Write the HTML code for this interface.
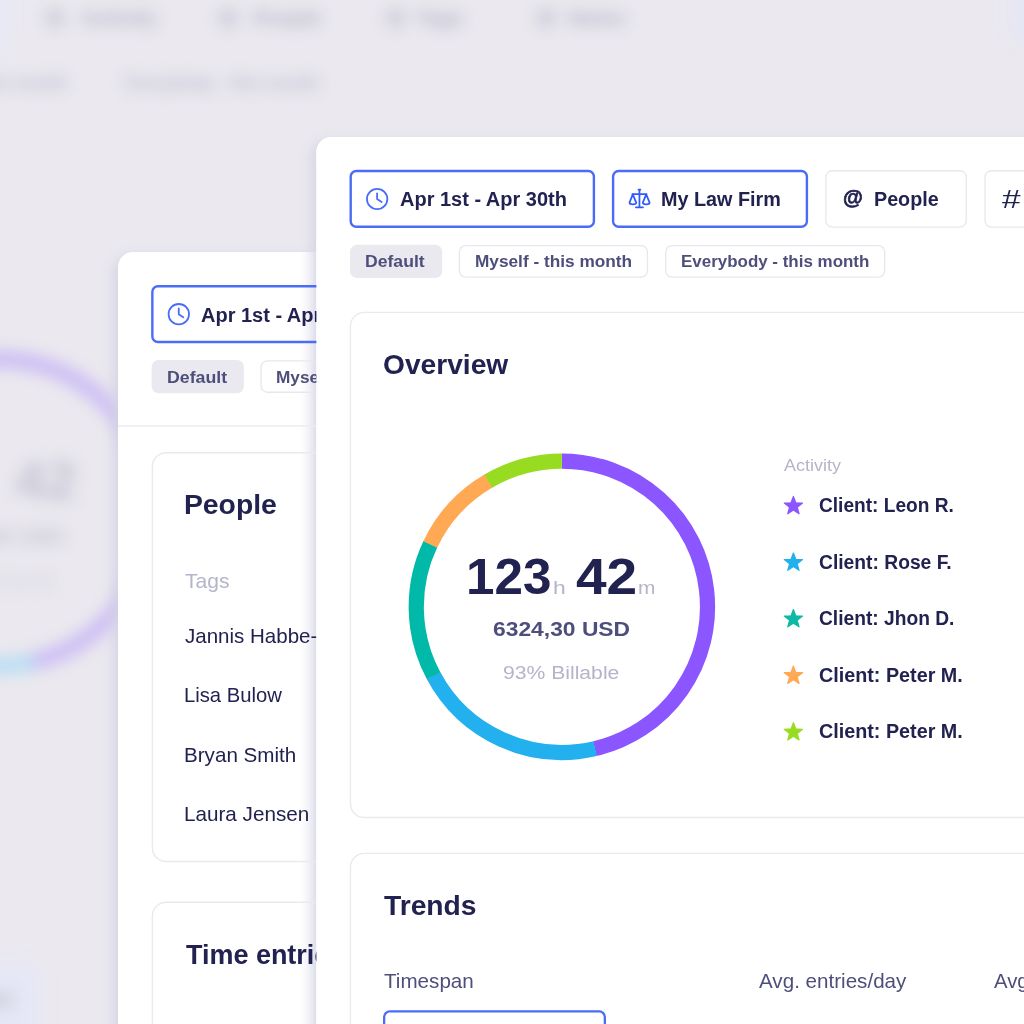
<!DOCTYPE html>
<html lang="en">
<head>
<meta charset="utf-8">
<title>Time tracking reports</title>
<style>
html,body{margin:0;padding:0;background:#ebe9ef;}
body{width:1024px;height:1024px;overflow:hidden;font-family:"Liberation Sans",sans-serif;}
.stage{position:relative;width:1024px;height:1024px;overflow:hidden;background:#ebe9ef;}
.t{position:absolute;white-space:nowrap;line-height:1;transform-origin:0 0;}
.abs{position:absolute;}
.panel{position:absolute;background:#fff;border-radius:15px;}
.blur{position:absolute;left:0;top:0;width:1024px;height:1024px;filter:blur(8px);}
svg{position:absolute;left:0;top:0;overflow:visible;}
</style>
</head>
<body>
<div class="stage">

<!-- blurred background layer -->
<div class="blur">
  <div class="abs" style="left:-30px;top:-20px;width:43px;height:67px;border-radius:8px;background:#e7e8f5;"></div>
  <div class="abs" style="left:1010px;top:-20px;width:60px;height:62px;border-radius:8px;background:#e5e6f5;"></div>
  <div class="abs" style="left:-30px;top:964px;width:70px;height:90px;border-radius:8px;background:#e6e7f6;"></div>
  <div class="abs" style="left:-20px;top:992px;width:34px;height:16px;border-radius:6px;background:#d2d2e0;"></div>
  <svg width="1024" height="1024" viewBox="0 0 1024 1024">
    <g fill="none" stroke-width="16">
      <circle cx="-1.8" cy="512.4" r="153.5" stroke="#c9baf5"/>
      <path d="M32.7 662.0A153.5 153.5 0 0 1 -89.8 638.1" stroke="#b5def4"/>
    </g>
    <g fill="none" stroke="#b4b4c8" stroke-width="4">
      <circle cx="55" cy="18" r="7"/><circle cx="228" cy="18" r="7"/><circle cx="396" cy="18" r="7"/><circle cx="546" cy="18" r="7"/>
    </g>
  </svg>
  <span class="t" style="left:81px;top:7px;font-size:21px;font-weight:700;color:#adadc4;">Activity</span>
  <span class="t" style="left:253px;top:7px;font-size:21px;font-weight:700;color:#adadc4;">People</span>
  <span class="t" style="left:416px;top:7px;font-size:21px;font-weight:700;color:#adadc4;">Tags</span>
  <span class="t" style="left:568px;top:7px;font-size:21px;font-weight:700;color:#adadc4;">Notes</span>
  <span class="t" style="left:-92px;top:75px;font-size:17.5px;font-weight:700;color:#b6b6cb;">Myself - this month</span>
  <span class="t" style="left:125px;top:75px;font-size:17.5px;font-weight:700;color:#b6b6cb;">Everybody - this month</span>
  <span class="t" style="left:-105px;top:453px;font-size:54px;font-weight:700;color:#c2c2d2;">123</span>
  <span class="t" style="left:14px;top:453px;font-size:54px;font-weight:700;color:#c2c2d2;transform:scaleX(1.06)">42</span>
  <span class="t" style="left:-68px;top:526px;font-size:22px;font-weight:700;color:#c0c0d0;">6324,30 USD</span>
  <span class="t" style="left:-54px;top:571px;font-size:20px;font-weight:400;color:#d2d2de;">93% Billable</span>

</div>

<!-- middle panel -->
<div class="panel" style="left:118px;top:252px;width:760px;height:800px;box-shadow:-4px 4px 14px rgb(211,211,228);"></div>
<!-- front panel shadow (sits under the middle panel content) -->
<div class="panel" style="left:316px;top:137px;width:760px;height:940px;transform:translateX(0.4px);box-shadow:-4px 4px 14px rgb(211,211,228);"></div>
<div class="abs" style="left:118px;top:252px;width:199px;height:780px;overflow:hidden;">
<div class="abs" style="left:-118px;top:-252px;width:1024px;height:1024px;">

  <svg width="1024" height="1024" viewBox="0 0 1024 1024">
<rect x="152.40" y="452.70" width="846.90" height="408.80" rx="13.80" fill="none" stroke="#e9e9f0" stroke-width="1.4"/>
<rect x="152.40" y="902.30" width="846.90" height="397.00" rx="13.80" fill="none" stroke="#e9e9f0" stroke-width="1.4"/>
<rect x="152.35" y="286.20" width="243.20" height="55.80" rx="5.60" fill="none" stroke="#4a6cf7" stroke-width="2.4"/>
<rect x="151.65" y="360.00" width="92.20" height="33.30" rx="7.00" fill="#e9e9ef" />
<rect x="261.05" y="360.85" width="188.05" height="31.40" rx="6.35" fill="none" stroke="#e7e7ef" stroke-width="1.3"/>
<rect x="118" y="425.2" width="700" height="1.4" fill="#ebebf1"/>
    <g fill="none" stroke="#4a6cf7" stroke-width="1.8" stroke-linecap="round" stroke-linejoin="round">
      <circle cx="178.8" cy="314.2" r="10.2"/>
      <path d="M178.75 308.5V314.3L183.25 317.25"/>
    </g>
  </svg>
<span class="t" style="left:201.39px;top:304.62px;font-size:20.3px;font-weight:700;color:#222251;transform:scaleX(0.9851);">Apr 1st - Apr 30th</span>
<span class="t" style="left:166.89px;top:369.04px;font-size:17.2px;font-weight:700;color:#4e4e7c;transform:scaleX(1.0309);">Default</span>
<span class="t" style="left:276.32px;top:369.04px;font-size:17.2px;font-weight:700;color:#4e4e7c;transform:scaleX(1.0029);">Myself - this month</span>
<span class="t" style="left:183.53px;top:490.72px;font-size:27.5px;font-weight:700;color:#222251;transform:scaleX(1.0289);">People</span>
<span class="t" style="left:184.97px;top:571.32px;font-size:20.3px;font-weight:400;color:#b4b4ca;transform:scaleX(1.0399);">Tags</span>
<span class="t" style="left:184.98px;top:626.22px;font-size:20.3px;font-weight:400;color:#222251;transform:scaleX(1.0120);">Jannis Habbe-Smith</span>
<span class="t" style="left:183.72px;top:685.02px;font-size:20.3px;font-weight:400;color:#222251;transform:scaleX(0.9976);">Lisa Bulow</span>
<span class="t" style="left:183.69px;top:744.62px;font-size:20.3px;font-weight:400;color:#222251;transform:scaleX(1.0164);">Bryan Smith</span>
<span class="t" style="left:183.68px;top:804.42px;font-size:20.3px;font-weight:400;color:#222251;transform:scaleX(1.0192);">Laura Jensen</span>
<span class="t" style="left:185.70px;top:941.22px;font-size:27.5px;font-weight:700;color:#222251;transform:scaleX(0.9801);">Time entries</span>
</div>
</div>

<!-- front panel -->
<div class="panel" style="left:316px;top:137px;width:760px;height:940px;transform:translateX(0.4px);"></div>
<div class="abs" style="left:317px;top:137px;width:707px;height:887px;overflow:hidden;">
<div class="abs" style="left:-317px;top:-137px;width:1024px;height:1024px;">









  <svg width="1024" height="1024" viewBox="0 0 1024 1024">
<rect x="350.45" y="312.40" width="848.85" height="505.10" rx="13.80" fill="#fff" stroke="#e9e9f0" stroke-width="1.4"/>
<rect x="350.45" y="853.40" width="848.85" height="445.90" rx="13.80" fill="#fff" stroke="#e9e9f0" stroke-width="1.4"/>
<rect x="350.70" y="171.00" width="243.20" height="55.80" rx="5.60" fill="#fff" stroke="#4a6cf7" stroke-width="2.4"/>
<rect x="613.10" y="171.00" width="193.80" height="55.80" rx="5.60" fill="#fff" stroke="#4a6cf7" stroke-width="2.4"/>
<rect x="825.85" y="170.75" width="140.40" height="56.30" rx="6.35" fill="#fff" stroke="#e7e7ef" stroke-width="1.3"/>
<rect x="985.05" y="170.75" width="140.30" height="56.30" rx="6.35" fill="#fff" stroke="#e7e7ef" stroke-width="1.3"/>
<rect x="350.00" y="244.80" width="92.20" height="33.30" rx="7.00" fill="#e9e9ef" />
<rect x="459.40" y="245.65" width="188.05" height="31.40" rx="6.35" fill="#fff" stroke="#e7e7ef" stroke-width="1.3"/>
<rect x="665.65" y="245.65" width="219.00" height="31.40" rx="6.35" fill="#fff" stroke="#e7e7ef" stroke-width="1.3"/>
<rect x="384.15" y="1011.45" width="220.70" height="57.40" rx="5.65" fill="#fff" stroke="#4a6cf7" stroke-width="2.3"/>
    <g fill="none" stroke="#4a6cf7" stroke-width="1.8" stroke-linecap="round" stroke-linejoin="round">
      <circle cx="377.15" cy="199" r="10.2"/>
      <path d="M377.1 193.3V199.1L381.6 202.05"/>
    </g>
    <g fill="none" stroke="#2f5bfd" stroke-width="1.75" stroke-linecap="round" stroke-linejoin="round">
      <path d="M638.5 189.7H640.4M639.45 189.7V207.3M632.4 194.1H646.5M635.9 207.3H643"/>
      <path d="M632.8 194.4L629.5 202.6Q629.6 204.3 632.9 204.3Q636.2 204.3 636.3 202.8Z"/>
      <path d="M646.2 194.4L642.8 202.6Q642.9 204.3 646.2 204.3Q649.5 204.3 649.6 202.6Z"/>
    </g>
<path d="M561.90 461.15A145.65 145.65 0 0 1 594.76 748.69" stroke="#8b55ff" stroke-width="15.2" fill="none" />
<path d="M595.13 748.61A145.65 145.65 0 0 1 433.42 675.40" stroke="#22b0ee" stroke-width="15.2" fill="none" />
<path d="M433.60 675.74A145.65 145.65 0 0 1 430.44 544.10" stroke="#00b9a8" stroke-width="15.2" fill="none" />
<path d="M430.27 544.44A145.65 145.65 0 0 1 488.64 480.92" stroke="#ffa954" stroke-width="15.2" fill="none" />
<path d="M488.31 481.11A145.65 145.65 0 0 1 561.90 461.15" stroke="#98dc21" stroke-width="15.2" fill="none" />
<polygon points="793.40,496.40 795.77,502.74 802.53,503.03 797.23,507.25 799.04,513.77 793.40,510.03 787.76,513.77 789.57,507.25 784.27,503.03 791.03,502.74" fill="#8b55ff" stroke="#8b55ff" stroke-width="1.2" stroke-linejoin="round"/>
<polygon points="793.40,552.95 795.77,559.29 802.53,559.58 797.23,563.80 799.04,570.32 793.40,566.58 787.76,570.32 789.57,563.80 784.27,559.58 791.03,559.29" fill="#22b0ee" stroke="#22b0ee" stroke-width="1.2" stroke-linejoin="round"/>
<polygon points="793.40,609.50 795.77,615.84 802.53,616.13 797.23,620.35 799.04,626.87 793.40,623.13 787.76,626.87 789.57,620.35 784.27,616.13 791.03,615.84" fill="#0fb8a6" stroke="#0fb8a6" stroke-width="1.2" stroke-linejoin="round"/>
<polygon points="793.40,666.05 795.77,672.39 802.53,672.68 797.23,676.90 799.04,683.42 793.40,679.68 787.76,683.42 789.57,676.90 784.27,672.68 791.03,672.39" fill="#ffa954" stroke="#ffa954" stroke-width="1.2" stroke-linejoin="round"/>
<polygon points="793.40,722.60 795.77,728.94 802.53,729.23 797.23,733.45 799.04,739.97 793.40,736.23 787.76,739.97 789.57,733.45 784.27,729.23 791.03,728.94" fill="#98dc21" stroke="#98dc21" stroke-width="1.2" stroke-linejoin="round"/>
  </svg>
<span class="t" style="left:399.69px;top:189.07px;font-size:20.3px;font-weight:700;color:#222251;transform:scaleX(0.9851);">Apr 1st - Apr 30th</span>
<span class="t" style="left:661.36px;top:189.07px;font-size:20.3px;font-weight:700;color:#222251;transform:scaleX(0.9756);">My Law Firm</span>
<span class="t" style="left:842.65px;top:187.12px;font-size:20.3px;font-weight:700;color:#222251;transform:scaleX(1.0021);-webkit-text-stroke:0.7px #222251;">@</span>
<span class="t" style="left:874.27px;top:188.82px;font-size:20.3px;font-weight:700;color:#222251;transform:scaleX(0.9724);">People</span>
<span class="t" style="left:1001.70px;top:187.24px;font-size:25px;font-weight:400;color:#222251;transform:scaleX(1.3369);">#</span>
<span class="t" style="left:365.40px;top:253.44px;font-size:17.2px;font-weight:700;color:#4e4e7c;transform:scaleX(1.0239);">Default</span>
<span class="t" style="left:474.92px;top:253.44px;font-size:17.2px;font-weight:700;color:#4e4e7c;transform:scaleX(1.0029);">Myself - this month</span>
<span class="t" style="left:680.84px;top:253.44px;font-size:17.2px;font-weight:700;color:#4e4e7c;transform:scaleX(0.9861);">Everybody - this month</span>
<span class="t" style="left:383.12px;top:350.92px;font-size:27.5px;font-weight:700;color:#222251;transform:scaleX(1.0236);">Overview</span>
<span class="t" style="left:465.90px;top:551.57px;font-size:50px;font-weight:700;color:#222251;transform:scaleX(1.0234);">123</span>
<span class="t" style="left:552.57px;top:580.09px;font-size:17.5px;font-weight:400;color:#b4b4ca;transform:scaleX(1.3061);">h</span>
<span class="t" style="left:576.20px;top:551.57px;font-size:50px;font-weight:700;color:#222251;transform:scaleX(1.0999);">42</span>
<span class="t" style="left:638.10px;top:580.09px;font-size:17.5px;font-weight:400;color:#b4b4ca;transform:scaleX(1.1925);">m</span>
<span class="t" style="left:492.69px;top:619.49px;font-size:20.8px;font-weight:700;color:#4e4e7c;transform:scaleX(1.0979);">6324,30 USD</span>
<span class="t" style="left:502.91px;top:664.39px;font-size:18.8px;font-weight:400;color:#b4b4ca;transform:scaleX(1.1255);">93% Billable</span>
<span class="t" style="left:784.00px;top:457.13px;font-size:16.5px;font-weight:400;color:#b4b4ca;transform:scaleX(1.0889);">Activity</span>
<span class="t" style="left:818.80px;top:494.82px;font-size:20.3px;font-weight:700;color:#222251;transform:scaleX(0.9421);">Client: Leon R.</span>
<span class="t" style="left:818.80px;top:552.37px;font-size:20.3px;font-weight:700;color:#222251;transform:scaleX(0.9491);">Client: Rose F.</span>
<span class="t" style="left:818.80px;top:607.92px;font-size:20.3px;font-weight:700;color:#222251;transform:scaleX(0.9463);">Client: Jhon D.</span>
<span class="t" style="left:818.78px;top:665.47px;font-size:20.3px;font-weight:700;color:#222251;transform:scaleX(0.9738);">Client: Peter M.</span>
<span class="t" style="left:818.78px;top:721.02px;font-size:20.3px;font-weight:700;color:#222251;transform:scaleX(0.9738);">Client: Peter M.</span>
<span class="t" style="left:384.00px;top:891.82px;font-size:27.5px;font-weight:700;color:#222251;transform:scaleX(1.0264);">Trends</span>
<span class="t" style="left:383.68px;top:971.22px;font-size:20.3px;font-weight:400;color:#4e4e7c;transform:scaleX(1.0170);">Timespan</span>
<span class="t" style="left:758.90px;top:970.82px;font-size:20.3px;font-weight:400;color:#4e4e7c;transform:scaleX(1.0159);">Avg. entries/day</span>
<span class="t" style="left:993.70px;top:970.82px;font-size:20.3px;font-weight:400;color:#4e4e7c;transform:scaleX(0.9997);">Avg. hours/day</span>
</div>
</div>

</div>
</body>
</html>
